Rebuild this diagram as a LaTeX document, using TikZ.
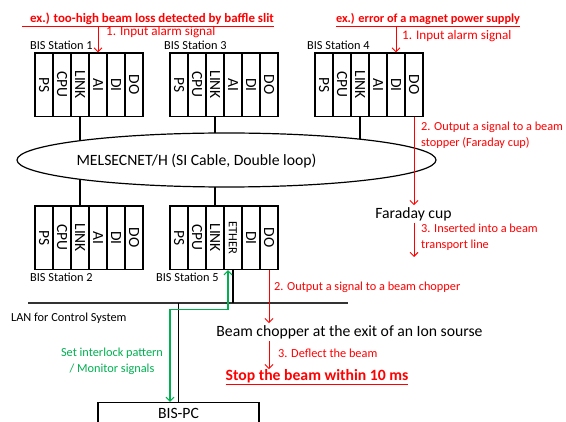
\documentclass[tikz,border=0pt]{standalone}
\usepackage{fontspec}
\setmainfont{Carlito}
\usepackage{graphicx}
\usetikzlibrary{shapes.geometric,arrows.meta}
\pgfdeclarelayer{bg}
\pgfsetlayers{bg,main}
\definecolor{lgreen}{RGB}{0,176,80}
\newcommand{\mystation}[4]{%
  \foreach \lab [count=\i] in {#4} {
    \node[colbox] (#1-\i) at ({#2+(\i-0.5)*18},{#3+31.75}) {\rotatebox{-90}{\lab}};
  }%
}
\begin{document}
\begin{tikzpicture}[x=1pt,y=-1pt,
  colbox/.style={draw, line width=1.2pt, minimum width=18pt, minimum height=63.5pt, inner sep=0pt, font=\fontsize{15.5}{17}\selectfont},
  small/.style={font=\fontsize{12.3}{16}\selectfont, inner sep=0pt},
  big/.style={font=\fontsize{15.7}{18}\selectfont, inner sep=2pt},
  redtxt/.style={small, text=red},
  hdr/.style={font=\bfseries\fontsize{12.3}{15}\selectfont, text=red, inner sep=0pt},
  redarrow/.style={draw=red, line width=0.9pt, -{Straight Barb[length=4pt,width=8pt]}},
  greenc/.style={draw=lgreen, line width=1.1pt},
  conn/.style={draw=black, line width=1.2pt},
]
\useasboundingbox (0,0) rectangle (566,422);
\clip (0,0) rectangle (566,422);

% headers
\node[hdr, font=\bfseries\fontsize{12.9}{15}\selectfont] (hdr1) at (148,20) {\underline{\hspace{8pt}ex.) too-high beam loss detected by baffle slit}};
\node[hdr] (hdr2) at (428,20) {\underline{ex.) error of a magnet power supply}};

% stations
\mystation{s1}{35}{53}{PS,CPU,LINK,AI,DI,DO}
\mystation{s3}{170}{53}{PS,CPU,LINK,AI,DI,DO}
\mystation{s4}{315}{53}{PS,CPU,LINK,AI,DI,DO}
\mystation{s2}{35}{206}{PS,CPU,LINK,AI,DI,DO}
\mystation{s5}{170}{206}{PS,CPU,LINK,{\fontsize{12.5}{12.5}\selectfont ETHER},DI,DO}

\node[small, anchor=west] (l1) at (30,45) {BIS Station 1};
\node[small, anchor=west] (l3) at (164,45) {BIS Station 3};
\node[small, anchor=west] (l4) at (307,45) {BIS Station 4};
\node[small, anchor=west] (l2) at (30,277) {BIS Station 2};
\node[small, anchor=west] (l5) at (156,277) {BIS Station 5};

% network ellipse
\node[draw, ellipse, line width=1.2pt, fill=white, minimum width=419pt, minimum height=54pt, inner sep=0pt] (net) at (226.5,160) {};
\node[big] (nettxt) at (196.5,161) {MELSECNET/H (SI Cable, Double loop)};

\begin{pgfonlayer}{bg}
\draw[conn] (s1-3.south) -- (s2-3.north);
\draw[conn] (s3-3.south) -- (s5-3.north);
\draw[conn] (s4-3.south) -- (s4-3.south |- net.center);
\end{pgfonlayer}

% input alarms
\draw[redarrow] (hdr1.south -| s1-4.north) -- (s1-4.north);
\node[redtxt, font=\fontsize{13.1}{16}\selectfont, anchor=west] (in1) at (106,32) {1. Input alarm signal};
\draw[redarrow] (hdr2.south -| s4-5.north) -- (s4-5.north);
\node[redtxt, font=\fontsize{13.1}{16}\selectfont, anchor=west] (in4) at (402,36) {1. Input alarm signal};

% faraday cup
\node[big] (fc) at (413.5,214) {Faraday cup};
\draw[redarrow] (s4-6.south) -- (s4-6.south |- fc.north);
\node[redtxt, anchor=west, align=left] (out4) at (421,135) {2. Output a signal to a beam\\stopper (Faraday cup)};
\coordinate (fcend) at (414,257);
\draw[redarrow] (s4-6.south |- fc.south) -- (fcend);
\node[redtxt, anchor=west, align=left] (ins) at (421,237.5) {3. Inserted into a beam\\transport line};

% LAN
\coordinate (lanL) at (28,303);
\coordinate (lanR) at (348,303);
\draw[line width=2pt, draw=black!80] (lanL) -- (lanR);
\node[small, anchor=west] (lanlab) at (11,318) {LAN for Control System};
\draw[conn] (s5-4.south) -- (s5-4.south |- lanL);

% BIS-PC
\node[draw, line width=1.2pt, anchor=north, minimum width=161pt, font=\fontsize{15.7}{18}\selectfont, text height=10pt, text depth=3pt, inner ysep=6pt] (pc) at (178.5,402) {BIS-PC};
\draw[conn] (pc.north) -- (pc.north |- lanL);

% green
\draw[greenc, {Straight Barb[length=4pt,width=8pt]}-{Straight Barb[length=4pt,width=8pt]}] ([xshift=-5pt]s5-4.south) -- ++(0,39) -| ([xshift=-8.5pt]pc.north);
\node[font=\fontsize{12.3}{16}\selectfont, text=lgreen, align=center, inner sep=0pt] (gtxt) at (112,361) {Set interlock pattern\\ / Monitor signals};

% chopper
\node[big] (chop) at (349.5,332) {Beam chopper at the exit of an Ion sourse};
\draw[redarrow] (s5-6.south) -- (s5-6.south |- chop.north);
\node[redtxt, anchor=west] (out5) at (274,287) {2. Output a signal to a beam chopper};
\node[hdr, font=\bfseries\fontsize{15.7}{18}\selectfont] (stop) at (317,377) {\underline{Stop the beam within 10 ms}};
\draw[redarrow] (s5-6.south |- chop.south) -- (s5-6.south |- stop.north);
\node[redtxt, anchor=west] (defl) at (278,353) {3. Deflect the beam};
\end{tikzpicture}
\end{document}
